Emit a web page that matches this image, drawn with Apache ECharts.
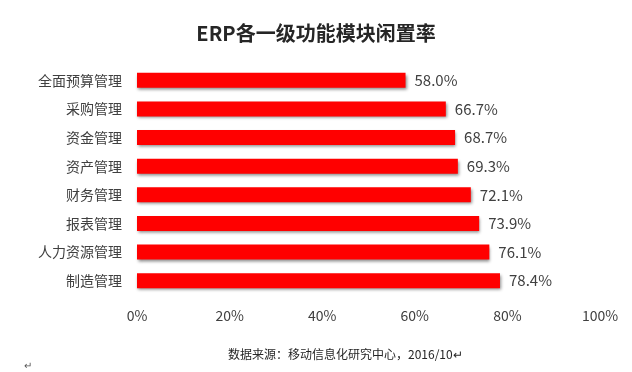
<!DOCTYPE html>
<html><head><meta charset="utf-8">
<script src="https://cdn.jsdelivr.net/npm/echarts@6/dist/echarts.min.js"></script>
<style>html,body{margin:0;padding:0;background:#fff}#c{width:632px;height:372px}</style>
</head><body><div id="c"></div>
<script>
const categories = ['全面预算管理','采购管理','资金管理','资产管理','财务管理','报表管理','人力资源管理','制造管理'];
const values = [58.0, 66.7, 68.7, 69.3, 72.1, 73.9, 76.1, 78.4];
const titleText = 'ERP各一级功能模块闲置率';
const footerText = '数据来源：移动信息化研究中心，2016/10';

const chart = echarts.init(document.getElementById('c'));
const font = '"Noto Sans CJK SC", "Noto Sans", sans-serif';
chart.setOption({
  animation: false,
  title: {
    text: titleText, left: 'center', top: 18,
    textStyle: {fontFamily: font, fontSize: 20, fontWeight: 'bold', color: '#262626'}
  },
  grid: {left: 137, right: 32, top: 66, bottom: 77, containLabel: false},
  xAxis: {
    type: 'value', min: 0, max: 100, interval: 20,
    axisLine: {show: false}, axisTick: {show: false}, splitLine: {show: false},
    axisLabel: {formatter: '{value}%', margin: 14, fontFamily: font, fontSize: 14, color: '#404040'}
  },
  yAxis: {
    type: 'category', data: categories, inverse: true,
    axisLine: {show: false}, axisTick: {show: false},
    axisLabel: {margin: 15, fontFamily: font, fontSize: 14, color: '#404040'}
  },
  series: [{
    type: 'bar', data: values, barWidth: 15,
    itemStyle: {color: '#ff0000', shadowColor: 'rgba(0,0,0,0.45)', shadowBlur: 3, shadowOffsetX: 1, shadowOffsetY: 2},
    label: {show: true, position: 'right', distance: 9, formatter: p => p.value.toFixed(1) + '%',
      fontFamily: font, fontSize: 15, color: '#404040'}
  }],
  graphic: [
    {type: 'text', left: 228, top: 348, style: {text: footerText + '↵', font: '12px ' + font, fill: '#262626'}},
    {type: 'text', left: 24, top: 360, style: {text: '↵', font: '10px ' + font, fill: '#555'}}
  ]
});
</script></body></html>
